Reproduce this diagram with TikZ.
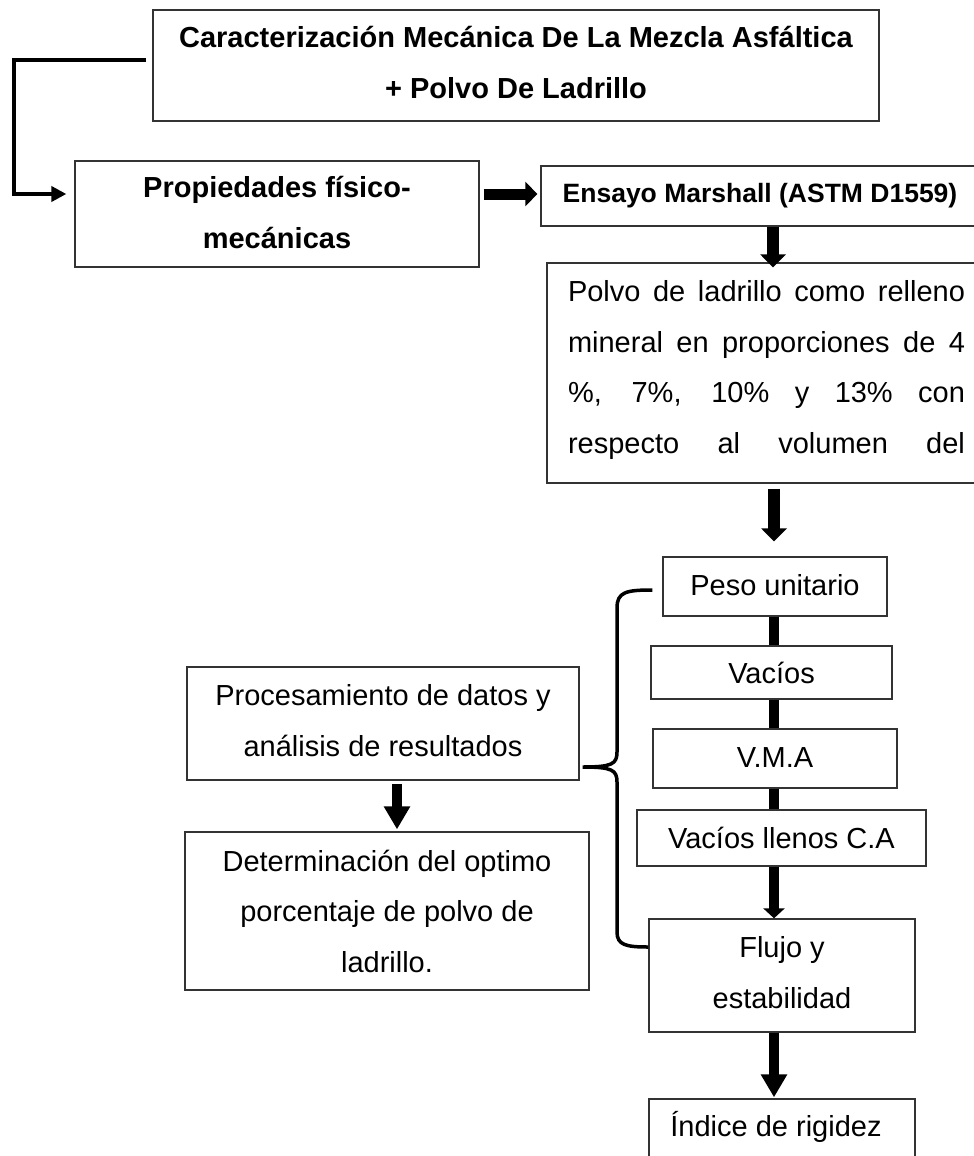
\documentclass[tikz,border=0pt]{standalone}
\usepackage{fontspec}
\setmainfont{Liberation Sans}
\usetikzlibrary{arrows.meta,calc}
\newcommand{\boxtext}[2]{\raisebox{#1pt}[0pt][0pt]{\begin{tabular}[b]{@{}c@{}}#2\end{tabular}}}
\newcommand{\jl}[1]{\makebox[397pt][s]{#1}}
\tikzset{
  bx/.style={draw=black!80, line width=1.3pt, inner sep=0pt, fill=white},
  reg/.style={font=\fontsize{29}{50.5}\selectfont},
  bld/.style={font=\fontsize{29}{50.5}\selectfont\bfseries},
  bldsm/.style={font=\fontsize{26.5}{50.5}\selectfont\bfseries},
  elbow/.style={line width=4pt, -{Triangle[width=15pt,length=15pt]}},
  fatA/.style={line width=11pt, -{Triangle[width=24pt,length=12pt]}},
  fatB/.style={line width=12pt, -{Triangle[width=25pt,length=13pt]}},
  fatS/.style={line width=10pt, -{Triangle[width=21pt,length=10pt]}},
  fatL/.style={line width=10pt, -{Triangle[width=25pt,length=23pt]}},
  bar/.style={line width=10pt},
  bracestyle/.style={line width=3.5pt}
}
\begin{document}
\begin{tikzpicture}[x=1pt,y=-1pt]
\clip (0,0) rectangle (974,1156);
\fill[white] (0,0) rectangle (974,1156);
% boxes
\node[bx,bld,minimum width=726pt,minimum height=111pt] (top) at (516,65.5)
  {\boxtext{-32.5}{Caracterización Mecánica De La Mezcla Asfáltica\\+ Polvo De Ladrillo}};
\node[bx,bld,minimum width=404pt,minimum height=106pt] (prop) at (277,214)
  {\boxtext{-34}{Propiedades físico-\\mecánicas}};
\node[bx,bldsm,minimum width=438pt,minimum height=60pt] (ens) at (760,196)
  {\boxtext{-6}{Ensayo Marshall (ASTM D1559)}};
\node[bx,reg,minimum width=439pt,minimum height=220pt] (polvo) at (766.5,373)
  {\boxtext{-80}{\jl{Polvo de ladrillo como relleno}\\\jl{mineral en proporciones de 4}\\\jl{\%, 7\%, 10\% y 13\% con}\\\jl{respecto al volumen del}}};
\node[bx,reg,minimum width=224pt,minimum height=59pt] (peso) at (775,586.5)
  {\boxtext{-8.5}{Peso unitario}};
\node[bx,reg,minimum width=241pt,minimum height=53pt] (vacios) at (771.5,672.5)
  {\boxtext{-10.5}{Vacíos}};
\node[bx,reg,minimum width=244pt,minimum height=59pt] (vma) at (775,758.5)
  {\boxtext{-8.5}{V.M.A}};
\node[bx,reg,minimum width=289pt,minimum height=56pt] (llenos) at (781.5,838)
  {\boxtext{-10}{Vacíos llenos C.A}};
\node[bx,reg,minimum width=266pt,minimum height=113pt] (flujo) at (782,975.5)
  {\boxtext{-32.5}{Flujo y\\estabilidad}};
\node[bx,reg,minimum width=266pt,minimum height=80pt] (indice) at (782,1139)
  {\boxtext{3}{Índice de rigidez\kern12pt}};
\node[bx,reg,minimum width=392pt,minimum height=113pt] (proc) at (383,723.5)
  {\boxtext{-32.5}{Procesamiento de datos y\\análisis de resultados}};
\node[bx,reg,minimum width=404pt,minimum height=158pt] (det) at (387,911)
  {\boxtext{-61}{Determinación del optimo\\porcentaje de polvo de\\ladrillo.}};
% connectors
\draw[elbow] ($(top.west)+(-6,-5.5)$) -- ++(-132,0) |- ($(prop.west)+(-8,-20)$);
\draw[fatA] ($(prop.east)+(4,-20)$) -- ($(ens.west)+(-3,-2)$);
\draw[fatB] ($(ens.south)+(13,0)$) -- ($(polvo.north)+(6.5,5)$);
\draw[fatB] ($(polvo.south)+(7.5,5)$) -- ($(peso.north)+(-1,-15)$);
\draw[bar] ($(peso.south)+(-1,0)$) -- ($(vacios.north)+(2.5,0)$);
\draw[bar] ($(vacios.south)+(2.5,0)$) -- ($(vma.north)+(-1,0)$);
\draw[bar] ($(vma.south)+(-1,0)$) -- ($(llenos.north)+(-7.5,0)$);
\draw[fatS] ($(llenos.south)+(-7.5,0)$) -- ($(flujo.north)+(-8,0)$);
\draw[fatL] ($(flujo.south)+(-8,0)$) -- ($(indice.north)+(-8,-1)$);
\draw[fatL] ($(proc.south)+(14,3)$) -- ($(det.north)+(10,-2)$);
% brace
\coordinate (btip) at ($(proc.east)+(3,43.5)$);
\draw[bracestyle] ($(peso.west)+(-10,3.5)$) .. controls (626,590) and (617,592) .. (617,608)
  -- (617,752) .. controls (617,764) and (612,767) .. (btip)
  .. controls (612,767) and (617,770) .. (617,782)
  -- (617,932) .. controls (617,945) and (626,947) .. ($(flujo.west)+(0,-28.5)$);
\end{tikzpicture}
\end{document}
